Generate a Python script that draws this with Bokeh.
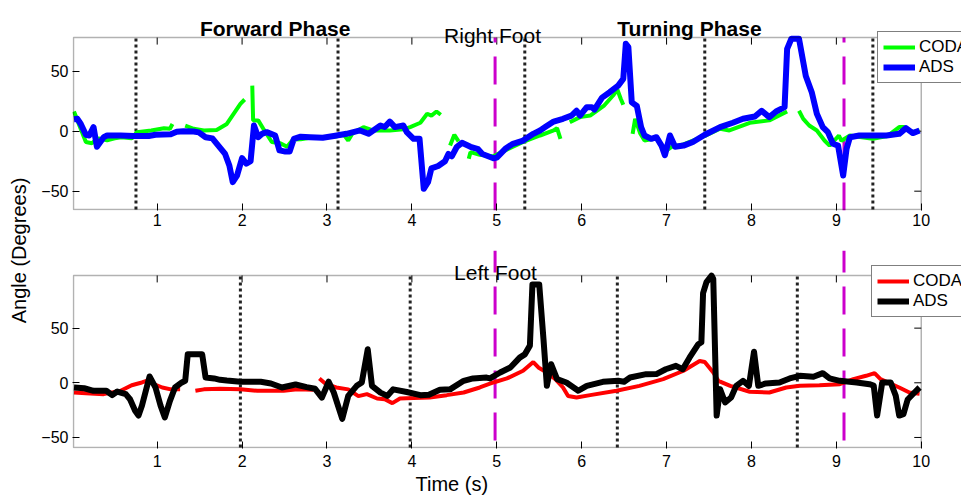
import math
from bokeh.plotting import figure
from bokeh.models import Range1d, FixedTicker, Legend, LegendItem, Label, BoxAnnotation, Title
from bokeh.layouts import row, column
from bokeh.embed import file_html
from bokeh.resources import INLINE

nan = float("nan")

# ---------------- data ----------------
x_ticks = [1, 2, 3, 4, 5, 6, 7, 8, 9, 10]
y_ticks = [-50, 0, 50]

right_ads_t = [0.02, 0.06, 0.10, 0.16, 0.20, 0.25, 0.29, 0.37, 0.41, 0.57, 0.72, 0.90, 0.98, 1.16, 1.23, 1.31,
               1.43, 1.49, 1.57, 1.65, 1.72, 1.80, 1.85, 1.89, 1.94, 2.00, 2.05, 2.10, 2.14, 2.19, 2.24, 2.29,
               2.39, 2.44, 2.51, 2.56, 2.61, 2.69, 2.80, 2.95, 3.08, 3.23, 3.39, 3.49, 3.63, 3.68, 3.74, 3.80,
               3.90, 3.94, 4.02, 4.09, 4.14, 4.19, 4.23, 4.31, 4.39, 4.43, 4.47, 4.53, 4.59, 4.69, 4.78, 4.83,
               4.96, 5.00, 5.10, 5.19, 5.31, 5.43, 5.51, 5.57, 5.67, 5.78, 5.88, 5.94, 5.98, 6.06, 6.12, 6.15,
               6.24, 6.33, 6.43, 6.49, 6.52, 6.55, 6.59, 6.65, 6.70, 6.74, 6.82, 6.88, 6.94, 6.98, 7.04, 7.10,
               7.20, 7.31, 7.45, 7.63, 7.78, 7.90, 8.04, 8.12, 8.21, 8.29, 8.39, 8.42, 8.47, 8.56, 8.64, 8.71,
               8.77, 8.84, 8.90, 8.96, 9.02, 9.08, 9.12, 9.16, 9.27, 9.43, 9.59, 9.74, 9.82, 9.90, 9.98]
right_ads_v = [10, 10.3, 6, -3, -3.6, 3.4, -13, -5, -3.6, -3.6, -4, -4, -3, -2.5, -0.5, 0,
               -0.3, -1, -5, -6, -12, -19, -28.6, -42.5, -37, -22.5, -27, -25, 4.7, -5, -2, -0.8,
               -3.6, -16, -17, -17, -6.4, -4.6, -5, -5.5, -4, -2.2, 0.6, -2.2, 4.7, 3.5, 8, 3.4,
               4.7, -0.8, -6.4, -6.4, -48, -42.5, -31, -29, -25, -19, -21, -13, -9.7, -13, -15, -19,
               -22.5, -22, -14.7, -10.5, -7.8, -2.2, 0.6, 3.4, 8, 10.3, 13, 17, 13, 20, 20, 18,
               28, 32.5, 38, 43.6, 72.8, 70, 24, 21, 3.4, -3.6, -6.4, -5, -12, -20, -3.6, -13,
               -12, -9, -3, 3.4, 7, 10.3, 12.2, 17, 11.7, 16.4, 20, 68.6, 77, 77, 46, 32.5,
               14.5, 3.4, -0.8, -10.5, -12, -37, -14.7, -5, -3.6, -3.6, -3.6, -2.2, 2.5, -1.6, 0.6]

right_coda_t = [0.02, 0.08, 0.16, 0.23, 0.31, 0.41, 0.50, 0.58, 0.70, 0.76, 0.93, 1.08, 1.15, 1.18, nan,
                1.33, 1.43, 1.55, 1.70, 1.82, 1.90, 1.98, 2.03, nan,
                2.12, 2.13, 2.19, 2.25, 2.35, 2.45, 2.53, 2.60, 2.69, 2.80, 2.95, 3.10, 3.20, 3.25, 3.30, 3.43,
                3.55, 3.74, 3.90, 3.98, 4.10, 4.18, 4.23, 4.29, 4.34, nan,
                4.45, 4.50, 4.55, nan,
                4.67, 4.69, 4.80, 4.96, 5.10, 5.31, 5.51, 5.67, 5.71, 5.75, nan,
                5.86, 5.98, 6.10, 6.26, 6.37, 6.42, 6.46, 6.49, nan,
                6.60, 6.63, 6.69, 6.74, 6.88, 6.98, 7.06, 7.20, 7.45, 7.63, 7.74, 7.98, 8.21, 8.42, nan,
                8.56, 8.61, 8.68, 8.77, 8.86, 8.92, 8.96, 9.03, 9.06, 9.16, 9.30, 9.43, 9.60, 9.74, 9.80,
                9.90, 9.98]
right_coda_v = [16.4, 5.3, -9, -10, -6, -7.5, -6, -5, -6, -0.8, 0.6, 2.5, 2, 6, nan,
                4.7, 2, 0.6, 1, 6, 14.5, 22.8, 26.4, nan,
                38, 9, 9, 2, -9, -10, -13, -7, -6.7, -5.5, -5, -4.5, -3, -7.8, -2, 3.4,
                0.5, 0.6, 1.5, 3.4, 7, 14.5, 13, 16.4, 13.7, nan,
                -12, -3, -8.5, nan,
                -23, -17.5, -19.7, -21, -16, -9, -3.6, 0.6, 2.5, -6.4, nan,
                7.5, 11.7, 13, 21, 29.7, 34.7, 27, 22, nan,
                -2.2, 10.3, -2, -7.8, -6, -17, -13, -11, -4, 2, 0.6, 7, 9, 16.4, nan,
                17, 10.3, 4.7, 0.6, -7.8, -12, -9, -3.6, -8, -3.6, -5, -6.4, -4, 3.4, 3.4,
                -0.8, 0.6]

left_ads_t = [0.02, 0.14, 0.25, 0.40, 0.47, 0.53, 0.63, 0.68, 0.74, 0.78, 0.82, 0.91, 0.98, 1.04, 1.09, 1.15,
              1.21, 1.29, 1.33, 1.36, 1.53, 1.57, 1.67, 1.74, 1.82, 1.98, 2.22, 2.34, 2.47, 2.63, 2.76, 2.86,
              2.94, 3.02, 3.08, 3.18, 3.25, 3.35, 3.41, 3.48, 3.53, 3.63, 3.71, 3.78, 3.94, 4.10, 4.20, 4.33,
              4.45, 4.61, 4.72, 4.88, 4.92, 5.04, 5.16, 5.27, 5.33, 5.39, 5.42, 5.50, 5.55, 5.59, 5.64, 5.71,
              5.82, 5.96, 6.06, 6.25, 6.43, 6.50, 6.57, 6.76, 6.88, 6.99, 7.11, 7.19, 7.27, 7.37, 7.41, 7.43,
              7.47, 7.53, 7.55, 7.59, 7.63, 7.69, 7.76, 7.82, 7.90, 7.97, 8.03, 8.08, 8.17, 8.33, 8.45, 8.57,
              8.73, 8.84, 8.92, 9.04, 9.24, 9.39, 9.44, 9.48, 9.54, 9.64, 9.70, 9.74, 9.79, 9.84, 9.92, 9.98]
left_ads_v = [-4.3, -5, -7.3, -7.3, -11.3, -8, -10.4, -15, -25.6, -30, -21, 5.8, -4.3, -21, -31.7, -16.5,
              -4.3, 0.3, 1.8, 26, 26, 4.8, 4, 2.7, 2, 0.9, 0.9, -0.6, -4.3, -1.6, -4, -5.5,
              -13.5, 1, -8.9, -33, -12, -2.8, 0.3, 30.7, -2.8, -9, -12, -6, -8.4, -11.3, -11, -6.4,
              -6, 1.8, 4, 4.8, 4, 9.4, 14, 23, 26, 34, 90, 90, 40, -2.8, 17, 3.3,
              0.3, -7.3, -2.8, 0.9, 1.8, 1, 4.8, 7.9, 8, 12.4, 15.5, 12.4, 23, 35, 37, 82,
              92, 98, 95, -30, -5.8, -18, -13.5, -2.8, 1.8, -2.8, 28.4, -2.8, -0.6, 0.3, 4, 6.4,
              5.5, 8.8, 4, 1.8, 0.3, -1.3, -2.5, -30, 0.3, 0.3, -12, -30, -28.7, -15.3, -8.9, -4.3]

left_coda_t = [0.02, 0.16, 0.37, 0.57, 0.70, 0.82, 0.91, 0.96, 1.06, 1.16, 1.27, nan,
               1.45, 1.55, 1.74, 1.98, 2.18, 2.49, 2.65, 2.84, nan,
               2.91, 2.99, 3.11, 3.25, 3.37, 3.47, 3.59, 3.68, 3.77, 3.86, 4.02, 4.21, 4.41, 4.61, 4.80,
               4.96, 5.12, 5.31, 5.43, 5.49, 5.59, 5.69, 5.78, 5.84, 5.94, 6.10, 6.41, 6.68, 6.96, 7.20,
               7.39, 7.45, 7.55, 7.61, 7.75, 7.98, 8.21, 8.41, 8.57, 8.80, 9.04, 9.20, 9.35, 9.45, 9.52,
               9.61, 9.74, 9.86, 9.98]
left_coda_v = [-8.9, -9.5, -10.4, -7.3, -2.2, 0.3, 2.7, -1.3, -4.3, -6, -6, nan,
               -7.3, -6, -5.5, -6, -7.3, -7.3, -6, -6.4, nan,
               4, -1.3, -4.3, -6, -12.2, -10.4, -14.4, -15, -18.6, -14.4, -14, -13.5, -11.3, -8.9, -4.3,
               0.3, 4, 11, 19, 14, 9.4, 3.3, -4.3, -12, -13.5, -11.3, -7.3, -2.8, 3.3, 11,
               20, 19, 9.4, 1.8, -2.8, -8.2, -8.9, -4.3, -2.8, -2.2, -1.3, 3.3, 6.4, 8.8, 3.3,
               0.3, -4.3, -8.9, -10]

right_events = [0.75, 3.13, 5.33, 7.45, 9.43]
left_events = [1.98, 3.98, 6.42, 8.54]
phase_bounds = [4.98, 9.09]

FONT = "Liberation Sans"
# axes box (data limits) and the visible window of each panel
BOX_X0, BOX_X1 = 0.014, 10.0
VIEW_X0, VIEW_X1 = 0.0024, 10.474
TOP_BOX = (-65.3, 78.0)
TOP_VIEW = (-66.1, 108.9)
BOT_BOX = (-59.2, 98.2)
BOT_VIEW = (-60.1, 121.0)


def axis_style(ax, standoff):
    ax.major_tick_in = 7
    ax.major_tick_out = 0
    ax.minor_tick_in = 0
    ax.minor_tick_out = 0
    ax.axis_line_color = None
    ax.major_tick_line_color = "black"
    ax.major_tick_line_width = 1
    ax.major_label_text_font = FONT
    ax.major_label_text_font_size = "16px"
    ax.major_label_text_color = "black"
    ax.major_label_standoff = standoff


def make_fig(view, box, height, bottom, xstandoff):
    p = figure(width=926, height=height, x_range=Range1d(VIEW_X0, VIEW_X1), y_range=Range1d(*view),
               output_backend="svg", toolbar_location=None, title=None,
               min_border_left=37, min_border_right=0, min_border_top=0, min_border_bottom=bottom)
    p.outline_line_color = None
    p.xgrid.visible = False
    p.ygrid.visible = False
    p.background_fill_color = "white"
    p.border_fill_color = "white"
    p.xaxis.ticker = FixedTicker(ticks=x_ticks)
    p.yaxis.ticker = FixedTicker(ticks=y_ticks)
    axis_style(p.xaxis[0], xstandoff)
    axis_style(p.yaxis[0], 4)
    # box around the axes
    p.add_layout(BoxAnnotation(left=BOX_X0, right=BOX_X1, bottom=box[0], top=box[1],
                               fill_alpha=0, line_color="black", line_width=1.5, level="overlay"))
    # inward ticks on the top and right edges of the box
    p.ray(x=x_ticks, y=[box[1]] * len(x_ticks), length=7, length_units="screen", angle=-math.pi / 2,
          line_color="black", line_width=1)
    p.ray(x=[BOX_X1] * len(y_ticks), y=y_ticks, length=7, length_units="screen", angle=math.pi,
          line_color="black", line_width=1)
    return p


def style_legend(lg):
    lg.border_line_color = "black"
    lg.border_line_width = 1.5
    lg.background_fill_color = "white"
    lg.background_fill_alpha = 1.0
    lg.label_text_font = FONT
    lg.label_text_font_size = "17px"
    lg.label_text_color = "black"
    lg.glyph_width = 32
    lg.glyph_height = 20
    lg.label_height = 20
    lg.spacing = 0
    lg.padding = 5
    lg.margin = 0
    lg.label_standoff = 4


# ---------------- top: right foot ----------------
p1 = make_fig(TOP_VIEW, TOP_BOX, 250, 40, 3)
p1.segment(x0=right_events, x1=right_events, y0=[TOP_BOX[0]] * len(right_events),
           y1=[TOP_BOX[1]] * len(right_events), line_color="#222222", line_width=3, line_dash="3 3")
p1.segment(x0=phase_bounds, x1=phase_bounds, y0=[TOP_VIEW[0]] * 2, y1=[TOP_BOX[1]] * 2,
           line_color="#CC00CC", line_width=3, line_dash="28 14")
r_coda = p1.line(right_coda_t, right_coda_v, line_color="#00FF00", line_width=4)
r_ads = p1.line(right_ads_t, right_ads_v, line_color="#0000FF", line_width=6, line_join="round")

leg1 = Legend(items=[LegendItem(label="CODA", renderers=[r_coda]),
                     LegendItem(label="ADS", renderers=[r_ads])],
              location=(805, 127))
style_legend(leg1)
p1.add_layout(leg1)

p1.add_layout(Label(x=2.39, y=85.6, text="Forward Phase", text_align="center", text_baseline="alphabetic",
                    text_font=FONT, text_font_style="bold", text_font_size="21px", text_color="black"))
p1.add_layout(Label(x=7.27, y=85.6, text="Turning Phase", text_align="center", text_baseline="alphabetic",
                    text_font=FONT, text_font_style="bold", text_font_size="21px", text_color="black"))
p1.add_layout(Label(x=4.95, y=79.8, text="Right Foot", text_align="center", text_baseline="alphabetic",
                    text_font=FONT, text_font_size="21px", text_color="black"))

# ---------------- bottom: left foot ----------------
p2 = make_fig(BOT_VIEW, BOT_BOX, 250, 52, 6)
p2.segment(x0=left_events, x1=left_events, y0=[BOT_BOX[0]] * len(left_events),
           y1=[BOT_BOX[1]] * len(left_events), line_color="#222222", line_width=3, line_dash="3 3")
p2.segment(x0=phase_bounds, x1=phase_bounds, y0=[-52.8] * 2, y1=[BOT_VIEW[1]] * 2,
           line_color="#CC00CC", line_width=3, line_dash="28 14")
l_coda = p2.line(left_coda_t, left_coda_v, line_color="#FF0000", line_width=4)
l_ads = p2.line(left_ads_t, left_ads_v, line_color="black", line_width=6, line_join="round")

leg2 = Legend(items=[LegendItem(label="CODA", renderers=[l_coda]),
                     LegendItem(label="ADS", renderers=[l_ads])],
              location=(799, 131))
style_legend(leg2)
p2.add_layout(leg2)

p2.add_layout(Label(x=4.985, y=101.2, text="Left Foot", text_align="center", text_baseline="alphabetic",
                    text_font=FONT, text_font_size="21px", text_color="black"))

# x axis label as a title panel under the bottom axis
p2.add_layout(Title(text="Time (s)", align="left", offset=343, standoff=3,
                    text_font=FONT, text_font_style="normal", text_font_size="20px",
                    text_color="black"), "below")

# ---------------- y label strip ----------------
pl = figure(width=35, height=500, x_range=Range1d(0, 35), y_range=Range1d(0, 500),
            output_backend="svg", toolbar_location=None, title=None,
            x_axis_location=None, y_axis_location=None,
            min_border_left=0, min_border_right=0, min_border_top=0, min_border_bottom=0)
pl.grid.visible = False
pl.outline_line_color = None
pl.background_fill_color = "white"
pl.border_fill_color = "white"
pl.add_layout(Label(x=18, y=250, text="Angle (Degrees)", angle=math.pi / 2, text_align="center",
                    text_baseline="middle", text_font=FONT, text_font_size="20px", text_color="black"))

layout = row(pl, column(p1, p2))
open("out.html", "w").write(file_html(layout, INLINE))
